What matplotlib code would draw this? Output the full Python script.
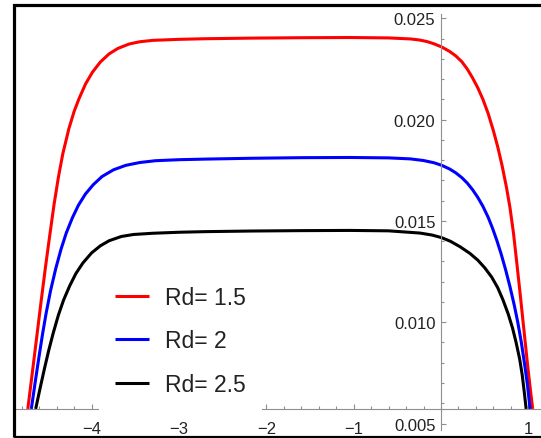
import matplotlib
matplotlib.use("Agg")
import matplotlib.pyplot as plt
from matplotlib.patches import Rectangle
from matplotlib.ticker import MultipleLocator, FixedLocator

# values
x_red = [-4.73, -4.68, -4.63, -4.58, -4.53, -4.48, -4.43, -4.38, -4.33, -4.26, -4.20, -4.145,
         -4.07, -3.99, -3.90, -3.80, -3.70, -3.57, -3.45, -3.30, -3.00, -2.70, -2.18, -1.60,
         -1.04, -0.60, -0.35, -0.25, -0.16, -0.08, 0.01, 0.10, 0.17, 0.24, 0.30, 0.36, 0.42,
         0.48, 0.54, 0.60, 0.65, 0.70, 0.75, 0.79, 0.83, 0.87, 0.91, 0.95, 0.99, 1.02, 1.05]
y_red = [0.00572, 0.00745, 0.00920, 0.01095, 0.01265, 0.01425, 0.01580, 0.01715, 0.01830, 0.01955,
         0.02040, 0.02102, 0.02175, 0.02234, 0.02284, 0.02324, 0.02351, 0.02373, 0.02384, 0.02391,
         0.02396, 0.02399, 0.02402, 0.02404, 0.02405, 0.02403, 0.02398, 0.02393, 0.02385, 0.02374,
         0.02358, 0.02336, 0.02314, 0.02285, 0.02250, 0.02207, 0.02158, 0.02100, 0.02030, 0.01945,
         0.01865, 0.01772, 0.01665, 0.01565, 0.01440, 0.01285, 0.01125, 0.00960, 0.00795, 0.00680,
         0.00572]

x_blue = [-4.69, -4.64, -4.60, -4.56, -4.52, -4.47, -4.41, -4.35, -4.29, -4.22, -4.15, -4.07,
          -3.98, -3.88, -3.75, -3.61, -3.45, -3.27, -3.00, -2.70, -2.18, -1.60, -1.04, -0.60,
          -0.35, -0.20, -0.08, 0.01, 0.10, 0.17, 0.24, 0.30, 0.36, 0.42, 0.48, 0.54, 0.59, 0.64,
          0.69, 0.74, 0.79, 0.84, 0.88, 0.92, 0.96, 0.99, 1.02]
y_blue = [0.00572, 0.00720, 0.00835, 0.00945, 0.01045, 0.01155, 0.01265, 0.01360, 0.01440, 0.01515,
          0.01578, 0.01633, 0.01679, 0.01719, 0.01752, 0.01774, 0.01788, 0.01797, 0.01802, 0.01805,
          0.01809, 0.01812, 0.01813, 0.01811, 0.01806, 0.01798, 0.01787, 0.01774, 0.01756, 0.01737,
          0.01713, 0.01687, 0.01655, 0.01617, 0.01572, 0.01518, 0.01464, 0.01403, 0.01335, 0.01259,
          0.01175, 0.01082, 0.00998, 0.00900, 0.00785, 0.00690, 0.00572]

x_black = [-4.64, -4.59, -4.54, -4.49, -4.44, -4.38, -4.32, -4.25, -4.18, -4.10, -4.00, -3.90,
           -3.80, -3.66, -3.52, -3.30, -3.00, -2.70, -2.18, -1.60, -1.04, -0.60, -0.24, -0.10,
           0.01, 0.11, 0.22, 0.33, 0.42, 0.50, 0.58, 0.65, 0.71, 0.77, 0.82, 0.86, 0.90, 0.93,
           0.955, 0.975]
y_black = [0.00572, 0.00673, 0.00770, 0.00862, 0.00945, 0.01035, 0.01110, 0.01180, 0.01240, 0.01292,
           0.01342, 0.01377, 0.01402, 0.01423, 0.01433, 0.01439, 0.01444, 0.01447, 0.01450, 0.01452,
           0.01453, 0.01451, 0.01440, 0.01430, 0.01417, 0.01399, 0.01372, 0.01340, 0.01307, 0.01269,
           0.01223, 0.01170, 0.01110, 0.01040, 0.00970, 0.00900, 0.00820, 0.00740, 0.00650, 0.00572]

labels = ["Rd= 1.5", "Rd= 2", "Rd= 2.5"]
colors = ["red", "blue", "black"]

x_ticks = [-4, -3, -2, -1, 1]
y_ticks = [0.005, 0.010, 0.015, 0.020, 0.025]
x_axis_level = 0.00572

tick_font = ["Liberation Sans Narrow", "Liberation Sans", "DejaVu Sans"]
axis_gray = "#8f8f8f"

fig = plt.figure(figsize=(5.41, 4.39), dpi=100)
ax = fig.add_axes([0.0288, 0.0191, 0.972, 0.9467])

for xs, ys, c, lab in zip([x_red, x_blue, x_black], [y_red, y_blue, y_black], colors, labels):
    ax.plot(xs, ys, color=c, lw=2.2, label=lab, solid_capstyle="butt", solid_joinstyle="round")

ax.set_xlim(-4.87, 1.15)
ax.set_ylim(0.0047, 0.02521)

# Mathematica-like axes crossing inside the plot
ax.spines["top"].set_visible(False)
ax.spines["right"].set_visible(False)
ax.spines["left"].set_position(("data", 0))
ax.spines["bottom"].set_position(("data", x_axis_level))
for s in ("left", "bottom"):
    ax.spines[s].set_color(axis_gray)
    ax.spines[s].set_linewidth(0.8)

ax.xaxis.set_major_locator(FixedLocator(x_ticks))
ax.xaxis.set_minor_locator(MultipleLocator(0.2))
ax.yaxis.set_major_locator(FixedLocator(y_ticks))
ax.yaxis.set_minor_locator(MultipleLocator(0.001))
ax.set_xticklabels(["\u22124", "\u22123", "\u22122", "\u22121", "1"])
ax.set_yticklabels(["0.005", "0.010", "0.015", "0.020", "0.025"])

ax.tick_params(axis="both", which="both", direction="in", color=axis_gray, width=0.8,
               labelcolor="#222222", labelsize=12)
ax.tick_params(axis="both", which="major", length=3.5)
ax.tick_params(axis="both", which="minor", length=2.2)
ax.tick_params(axis="x", which="major", pad=9)
ax.tick_params(axis="y", which="major", pad=4)
for t in ax.get_xticklabels() + ax.get_yticklabels():
    t.set_family(tick_font)

leg = ax.legend(loc="lower left", bbox_to_anchor=(0.1586, 0.0423), borderaxespad=0,
                handlelength=1.48, handletextpad=0.7, labelspacing=0.9,
                borderpad=0.7, frameon=True, fancybox=False, framealpha=1.0,
                facecolor="white", edgecolor="none",
                prop={"family": ["Liberation Sans", "DejaVu Sans"], "size": 16.5})
for t in leg.get_texts():
    t.set_color("#222222")

# black frame around the picture (right side runs off the image)
frame = Rectangle((0.025, 0.0034), 1.2, 0.9822, transform=fig.transFigure, fill=False,
                  edgecolor="black", linewidth=2.3, clip_on=False)
fig.add_artist(frame)

fig.savefig("out.png", dpi=100)
